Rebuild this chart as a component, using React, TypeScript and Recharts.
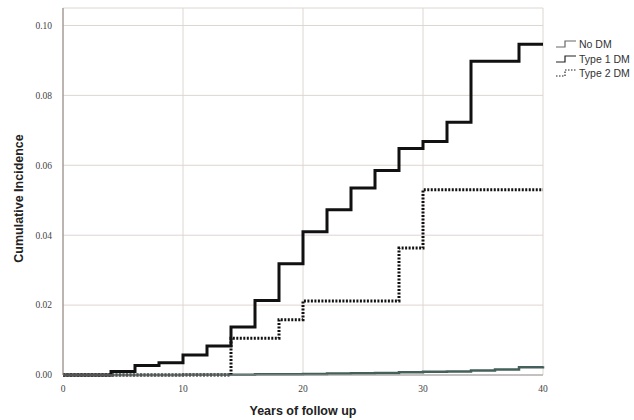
import React from 'react';
import { LineChart, Line, XAxis, YAxis, CartesianGrid } from 'recharts';

// follow-up time (years) at which any curve steps
const years = [0, 4, 6, 8, 10, 12, 14, 16, 18, 20, 22, 24, 26, 28, 30, 32, 34, 36, 38, 40];

const noDM = [0, 0, 0, 0, 0.0001, 0.0001, 0.0001, 0.0002, 0.0002, 0.0003, 0.0004, 0.0005, 0.0006, 0.0008, 0.0009, 0.001, 0.0013, 0.0016, 0.0022, 0.0025];
const type1DM = [0, 0.001, 0.0027, 0.0035, 0.0057, 0.0083, 0.0137, 0.0213, 0.0318, 0.041, 0.0473, 0.0535, 0.0585, 0.0648, 0.0668, 0.0723, 0.0898, 0.0898, 0.0946, 0.0946];
const type2DM = [0, 0, 0, 0, 0, 0, 0.0105, 0.0105, 0.0158, 0.0212, 0.0212, 0.0212, 0.0212, 0.0363, 0.053, 0.053, 0.053, 0.053, 0.053, 0.053];

const xTicks = [0, 10, 20, 30, 40];
const yTicks = [0, 0.02, 0.04, 0.06, 0.08, 0.1];

const seriesNames = ['No DM', 'Type 1 DM', 'Type 2 DM'];

const data = years.map((t, i) => ({
  t,
  noDM: noDM[i],
  type1: type1DM[i],
  type2: type2DM[i],
}));

const tickStyle = { fontFamily: '"Liberation Serif", "DejaVu Serif", serif', fontSize: 9.5, fill: '#444' };
const titleFont = { fontFamily: '"Liberation Sans", Arial, sans-serif', fontSize: 12.5, fontWeight: 'bold', fill: '#222' };

const StepIcon = ({ dash, color }: { dash?: string; color: string }) => (
  <svg width={22} height={10} style={{ display: 'block' }}>
    <polyline
      points="1,8 10,8 10,2 21,2"
      fill="none"
      stroke={color}
      strokeWidth={1.2}
      strokeDasharray={dash}
    />
  </svg>
);

const Legend = () => (
  <div
    style={{
      position: 'absolute',
      left: 555,
      top: 37,
      fontFamily: '"Liberation Sans Narrow", "Liberation Sans", Arial, sans-serif',
      fontSize: 10.5,
      color: '#333',
      lineHeight: '14.5px',
    }}
  >
    {seriesNames.map((name, i) => (
      <div key={name} style={{ display: 'flex', alignItems: 'center', whiteSpace: 'nowrap' }}>
        <StepIcon color={i === 0 ? '#666' : '#222'} dash={i === 2 ? '1.5 1.5' : undefined} />
        <span style={{ marginLeft: 2 }}>{name}</span>
      </div>
    ))}
  </div>
);

export default function App() {
  return (
    <div style={{ position: 'absolute', left: 0, top: 0, width: 634, height: 420, background: '#fff', overflow: 'hidden' }}>
      <LineChart width={634} height={420} data={data} margin={{ top: 8, right: 91, left: 0, bottom: 0 }}>
        <CartesianGrid stroke="#ddd6d2" strokeWidth={1} />
        <XAxis
          dataKey="t"
          type="number"
          domain={[0, 40]}
          ticks={xTicks}
          height={45}
          tick={tickStyle}
          tickLine={false}
          axisLine={{ stroke: '#999' }}
          tickMargin={4}
          label={{ value: 'Years of follow up', position: 'insideBottom', offset: 5, style: titleFont }}
        />
        <YAxis
          type="number"
          domain={[0, 0.105]}
          ticks={yTicks}
          width={63}
          tick={tickStyle}
          tickFormatter={(v: number) => v.toFixed(2)}
          tickLine={false}
          axisLine={{ stroke: '#8a7f7a' }}
          tickMargin={5}
          label={{
            value: 'Cumulative Incidence',
            content: ({ viewBox }: any) => (
              <text
                x={viewBox.x + 19}
                y={viewBox.y + viewBox.height / 2 + 7}
                transform={`rotate(-90, ${viewBox.x + 19}, ${viewBox.y + viewBox.height / 2 + 7})`}
                textAnchor="middle"
                dominantBaseline="central"
                style={titleFont}
              >
                Cumulative Incidence
              </text>
            ),
          }}
        />
        <Line
          type="stepAfter"
          dataKey="noDM"
          stroke="#45605a"
          strokeWidth={2.5}
          dot={false}
          isAnimationActive={false}
        />
        <Line
          type="stepAfter"
          dataKey="type2"
          stroke="#111"
          strokeWidth={3}
          strokeDasharray="2 1.5"
          dot={false}
          isAnimationActive={false}
        />
        <Line
          type="stepAfter"
          dataKey="type1"
          stroke="#111"
          strokeWidth={3}
          dot={false}
          isAnimationActive={false}
        />
      </LineChart>
      <Legend />
    </div>
  );
}
